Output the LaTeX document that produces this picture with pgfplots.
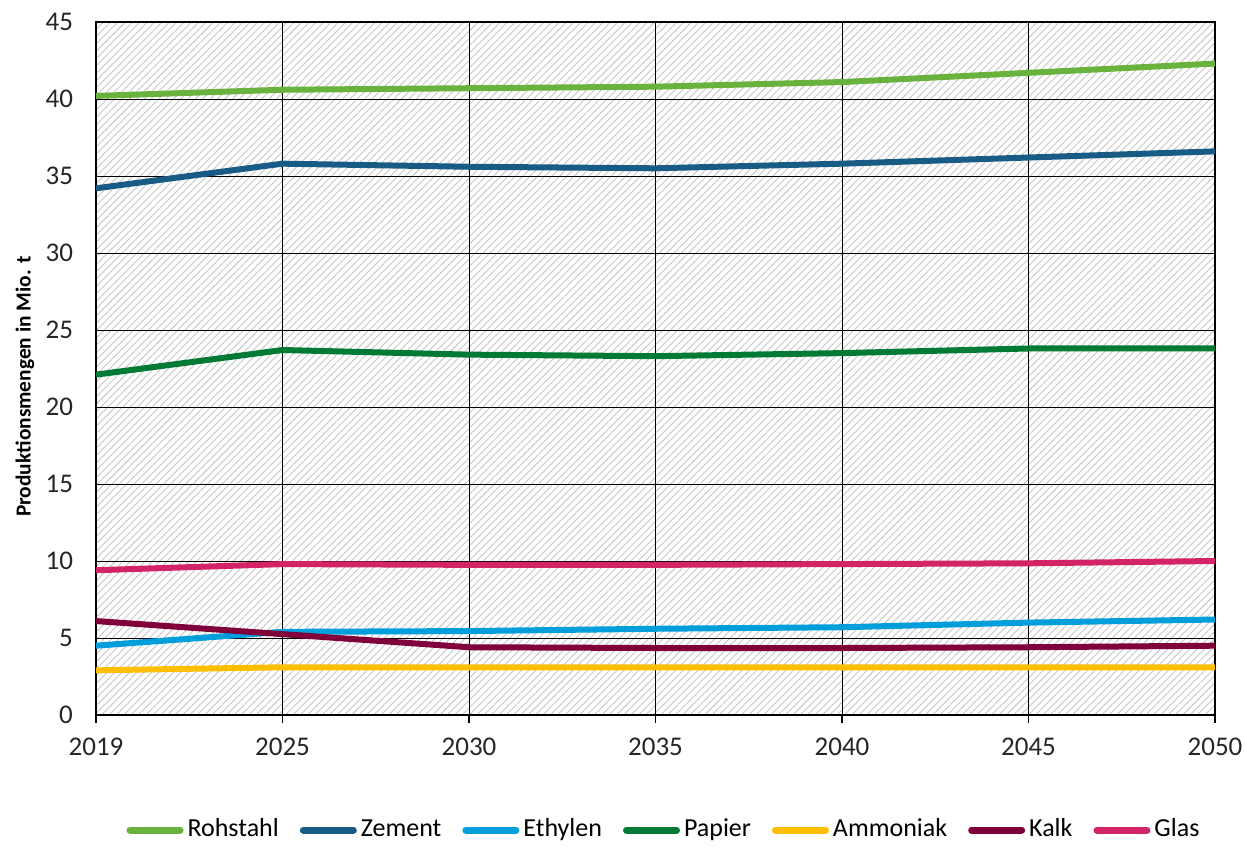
\documentclass[border=0pt]{standalone}
\usepackage{pgfplots}
\pgfplotsset{compat=1.18}
\usepackage{fontspec}
\setmainfont{Carlito}
\usetikzlibrary{patterns.meta}
\definecolor{cRoh}{RGB}{106,178,62}
\definecolor{cZem}{RGB}{24,92,134}
\definecolor{cEth}{RGB}{0,158,218}
\definecolor{cPap}{RGB}{0,122,52}
\definecolor{cAmm}{RGB}{255,190,0}
\definecolor{cKal}{RGB}{128,0,60}
\definecolor{cGla}{RGB}{212,36,104}
\begin{document}
\begin{tikzpicture}
\useasboundingbox (-48pt,-65.5pt) rectangle (574.5pt,357.5pt);
\begin{axis}[
  at={(0,0)}, anchor=south west,
  scale only axis, width=559.5pt, height=346.5pt,
  xmin=0, xmax=6, ymin=0, ymax=45,
  xtick={0,...,6}, xticklabels={2019,2025,2030,2035,2040,2045,2050},
  ytick={0,5,...,45},
  /pgf/number format/assume math mode=true,
  tick label style={font=\fontsize{13.5}{15}\selectfont, text=black!85},
  xticklabel style={yshift=-4pt},
  yticklabel style={xshift=-8pt},
  grid=major, grid style={black, line width=0.5pt},
  axis line style={black, line width=0.6pt},
  x tick style={black, line width=0.8pt}, xtick pos=bottom, xtick align=outside,
  major tick length=4pt,
  ytick style={draw=none},
  ylabel={\textbf{Produktionsmengen in Mio. t}},
  ylabel style={font=\fontsize{10.7}{13}\selectfont, at={(-0.0635,0.474)}, anchor=center},
  axis background/.style={pattern={Lines[angle=45,distance=2.6pt,line width=0.45pt]}, pattern color=gray!45},
  legend columns=7,
  legend style={at={(0.5085,-0.166)}, anchor=center, draw=none, fill=none,
    font=\fontsize{13}{15}\selectfont,
    nodes={text height=1.6ex, text depth=0.3ex},
    /tikz/every even column/.append style={column sep=8.5pt}},
  legend image code/.code={\draw[#1, line width=3.5pt, line cap=round] (0pt,0pt) -- (25pt,0pt);},
  every axis plot/.append style={line width=3pt, mark=none},
]
\addplot[cRoh] coordinates {(0,40.2)(1,40.6)(2,40.7)(3,40.8)(4,41.1)(5,41.7)(6,42.3)};
\addlegendentry{Rohstahl}
\addplot[cZem] coordinates {(0,34.2)(1,35.8)(2,35.6)(3,35.5)(4,35.8)(5,36.2)(6,36.6)};
\addlegendentry{Zement}
\addplot[cEth] coordinates {(0,4.5)(1,5.4)(2,5.45)(3,5.6)(4,5.7)(5,6.0)(6,6.2)};
\addlegendentry{Ethylen}
\addplot[cPap] coordinates {(0,22.1)(1,23.7)(2,23.4)(3,23.3)(4,23.5)(5,23.8)(6,23.8)};
\addlegendentry{Papier}
\addplot[cAmm] coordinates {(0,2.9)(1,3.1)(2,3.1)(3,3.1)(4,3.1)(5,3.1)(6,3.1)};
\addlegendentry{Ammoniak}
\addplot[cKal] coordinates {(0,6.1)(1,5.25)(2,4.4)(3,4.35)(4,4.35)(5,4.4)(6,4.5)};
\addlegendentry{Kalk}
\addplot[cGla] coordinates {(0,9.4)(1,9.8)(2,9.75)(3,9.75)(4,9.8)(5,9.85)(6,10.0)};
\addlegendentry{Glas}
\end{axis}
\end{tikzpicture}
\end{document}
